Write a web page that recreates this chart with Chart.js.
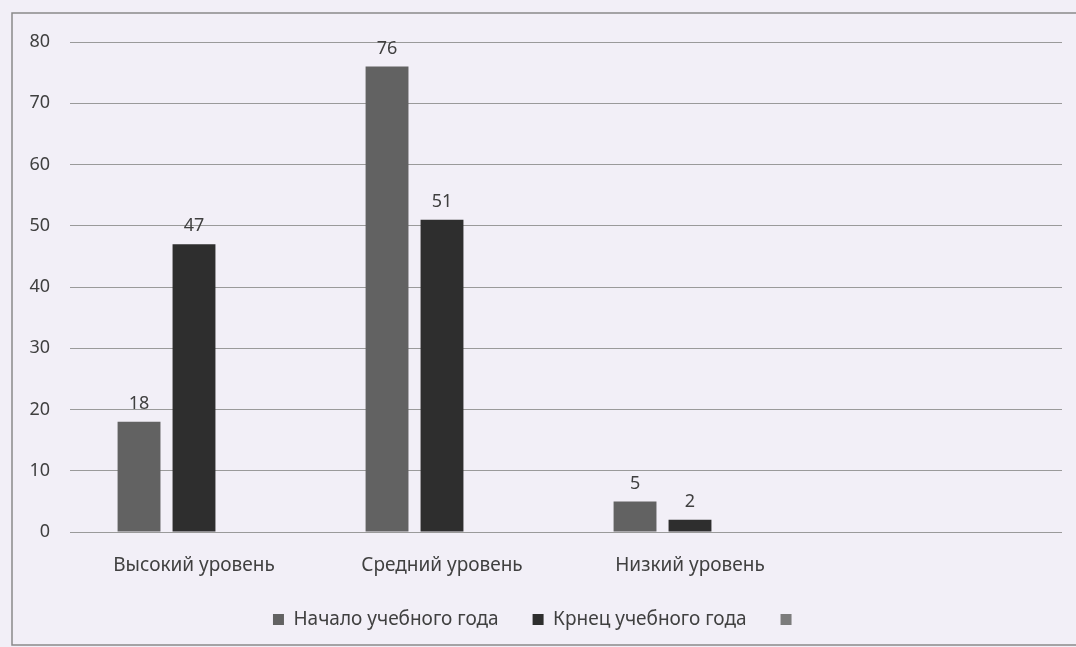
<!DOCTYPE html>
<html>
<head>
<meta charset="utf-8">
<script src="https://cdn.jsdelivr.net/npm/chart.js@4"></script>
<style>
  html, body { margin: 0; padding: 0; background: #f2eff7; }
  #wrap { width: 1076px; height: 647px; position: relative; }
</style>
</head>
<body>
<div id="wrap"><canvas id="chart"></canvas></div>
<script>
// categories (4th one is empty in the original)
var levels = ["Высокий уровень", "Средний уровень", "Низкий уровень", ""];
var startYear = [18, 76, 5, null];
var endYear = [47, 51, 2, null];
var thirdSeries = [null, null, null, null];
var seriesNames = ["Начало учебного года", "Крнец учебного года", ""];
var yTicks = [0, 10, 20, 30, 40, 50, 60, 70, 80];

var textColor = "#404040";
var fontFam = "'Noto Sans'";

// frame around the chart like in the scan
var framePlugin = {
    id: "frame",
    beforeDraw: function (chart) {
        var ctx = chart.ctx;
        ctx.save();
        ctx.strokeStyle = "#8a8a8a";
        ctx.lineWidth = 1.5;
        ctx.beginPath();
        ctx.moveTo(1080, 13);
        ctx.lineTo(12, 13);
        ctx.lineTo(12, 645);
        ctx.lineTo(1080, 645);
        ctx.stroke();
        ctx.restore();
    }
};

// values above the bars
var valuesPlugin = {
    id: "values",
    afterDatasetsDraw: function (chart) {
        var ctx = chart.ctx;
        ctx.save();
        ctx.fillStyle = textColor;
        ctx.font = "18px " + fontFam;
        ctx.textAlign = "center";
        ctx.textBaseline = "bottom";
        chart.data.datasets.forEach(function (ds, i) {
            var meta = chart.getDatasetMeta(i);
            meta.data.forEach(function (bar, j) {
                var v = ds.data[j];
                if (v === null || v === undefined) return;
                ctx.fillText(v, bar.x, bar.y - 9);
            });
        });
        ctx.restore();
    }
};

new Chart(document.getElementById("chart"), {
    type: "bar",
    data: {
        labels: levels,
        datasets: [
            { label: seriesNames[0], data: startYear, backgroundColor: "#626262" },
            { label: seriesNames[1], data: endYear, backgroundColor: "#2e2e2e" },
            { label: seriesNames[2], data: thirdSeries, backgroundColor: "#7c7c7c" }
        ]
    },
    options: {
        responsive: true,
        maintainAspectRatio: false,
        animation: false,
        datasets: {
            bar: { categoryPercentage: 0.665, barPercentage: 0.78 }
        },
        layout: { padding: { left: 12, right: 14, top: 42, bottom: 8 } },
        plugins: {
            legend: {
                position: "bottom",
                labels: {
                    color: textColor,
                    font: { family: fontFam, size: 19 },
                    boxWidth: 11,
                    boxHeight: 11,
                    padding: 34
                }
            },
            tooltip: { enabled: false }
        },
        scales: {
            x: {
                grid: { display: false },
                border: { display: false },
                ticks: { color: textColor, font: { family: fontFam, size: 19 }, padding: 14 },
                afterFit: function (scale) { scale.height = 44; }
            },
            y: {
                min: 0,
                max: 80,
                afterBuildTicks: function (scale) {
                    scale.ticks = yTicks.map(function (v) { return { value: v }; });
                },
                grid: { color: "#9a9a9a", lineWidth: 1, drawTicks: false },
                border: { display: false },
                ticks: { color: textColor, font: { family: fontFam, size: 18 }, padding: 20 },
                afterFit: function (scale) { scale.width = 58; }
            }
        }
    },
    plugins: [framePlugin, valuesPlugin]
});
</script>
</body>
</html>
